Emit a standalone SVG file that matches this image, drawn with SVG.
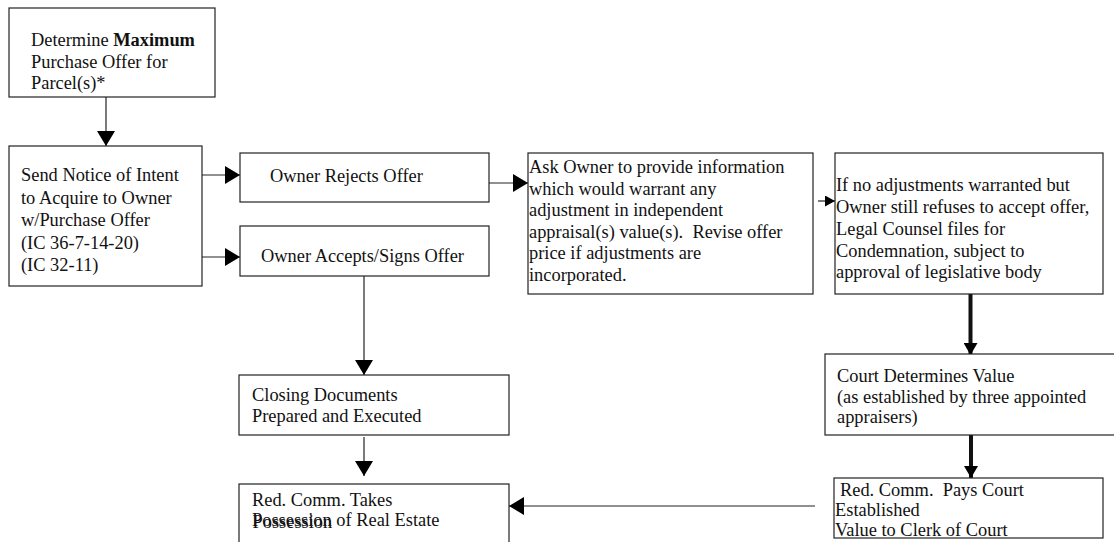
<svg xmlns="http://www.w3.org/2000/svg" width="1114" height="542" viewBox="0 0 1114 542">
<style>
  .box { fill: #fff; stroke: #222; stroke-width: 1.2; }
  .t { font-family: "Liberation Serif", "Times New Roman", serif; font-size: 18.4px; fill: #111; white-space: pre; }
  .ln { stroke: #222; stroke-width: 1.2; fill: none; }
  .thick { stroke: #111; stroke-width: 4; fill: none; }
</style>
<defs>
  <marker id="ah" markerUnits="userSpaceOnUse" markerWidth="15" markerHeight="18" viewBox="0 0 15 18" refX="15" refY="9" orient="auto">
    <path d="M0,0 L15,9 L0,18 z" fill="#000"/>
  </marker>
  <marker id="ahs" markerUnits="userSpaceOnUse" markerWidth="10" markerHeight="11" viewBox="0 0 10 11" refX="10" refY="5.5" orient="auto">
    <path d="M0,0 L10,5.5 L0,11 z" fill="#000"/>
  </marker>
  <marker id="aht" markerUnits="userSpaceOnUse" markerWidth="12" markerHeight="14" viewBox="0 0 12 14" refX="12" refY="7" orient="auto">
    <path d="M0,0 L12,7 L0,14 z" fill="#000"/>
  </marker>
</defs>
<rect width="1114" height="542" fill="#fff"/>

<g id="connectors">
  <line class="ln" x1="106" y1="97" x2="106" y2="146" marker-end="url(#ah)"/>
  <line class="ln" x1="202" y1="175" x2="240" y2="175" marker-end="url(#ah)"/>
  <line class="ln" x1="202" y1="257" x2="240" y2="257" marker-end="url(#ah)"/>
  <line class="ln" x1="489" y1="183" x2="528" y2="183" marker-end="url(#ah)"/>
  <line class="ln" x1="818" y1="201" x2="835" y2="201" marker-end="url(#ahs)"/>
  <line class="ln" x1="364" y1="276" x2="364" y2="375" marker-end="url(#ah)"/>
  <line class="ln" x1="364" y1="437" x2="364" y2="476" marker-end="url(#ah)"/>
  <line class="thick" x1="970.5" y1="294" x2="970.5" y2="355" marker-end="url(#aht)"/>
  <line class="thick" x1="971" y1="435" x2="971" y2="478" marker-end="url(#aht)"/>
  <line class="ln" x1="815" y1="506" x2="509" y2="506" marker-end="url(#ah)"/>
</g>

<g id="n1">
  <rect class="box" x="9" y="8" width="206" height="89"/>
  <text class="t" x="31" y="46">Determine <tspan font-weight="bold">Maximum</tspan></text>
  <text class="t" x="31" y="68">Purchase Offer for</text>
  <text class="t" x="31" y="89">Parcel(s)*</text>
</g>

<g id="n2">
  <rect class="box" x="9" y="146" width="193" height="140"/>
  <text class="t" x="21" y="181">Send Notice of Intent</text>
  <text class="t" x="21" y="203.5">to Acquire to Owner</text>
  <text class="t" x="21" y="226">w/Purchase Offer</text>
  <text class="t" x="21" y="248.5">(IC 36-7-14-20)</text>
  <text class="t" x="21" y="271">(IC 32-11)</text>
</g>

<g id="n3">
  <rect class="box" x="240" y="153" width="249" height="49"/>
  <text class="t" x="270" y="182">Owner Rejects Offer</text>
</g>

<g id="n4">
  <rect class="box" x="240" y="226" width="249" height="50"/>
  <text class="t" x="261" y="262">Owner Accepts/Signs Offer</text>
</g>

<g id="n5">
  <rect class="box" x="528" y="153" width="285" height="141"/>
  <text class="t" x="529" y="173">Ask Owner to provide information</text>
  <text class="t" x="529" y="194.5">which would warrant any</text>
  <text class="t" x="529" y="216">adjustment in independent</text>
  <text class="t" x="529" y="238" xml:space="preserve">appraisal(s) value(s).  Revise offer</text>
  <text class="t" x="529" y="259">price if adjustments are</text>
  <text class="t" x="529" y="281">incorporated.</text>
</g>

<g id="n6">
  <rect class="box" x="835" y="153" width="268" height="141"/>
  <text class="t" x="836" y="191">If no adjustments warranted but</text>
  <text class="t" x="836" y="213">Owner still refuses to accept offer,</text>
  <text class="t" x="836" y="235">Legal Counsel files for</text>
  <text class="t" x="836" y="257">Condemnation, subject to</text>
  <text class="t" x="836" y="278">approval of legislative body</text>
</g>

<g id="n7">
  <rect class="box" x="239" y="375" width="270" height="60"/>
  <text class="t" x="252" y="401">Closing Documents</text>
  <text class="t" x="252" y="422">Prepared and Executed</text>
</g>

<g id="n8">
  <rect class="box" x="825" y="354" width="295" height="81"/>
  <text class="t" x="837" y="382">Court Determines Value</text>
  <text class="t" x="837" y="403">(as established by three appointed</text>
  <text class="t" x="837" y="423">appraisers)</text>
</g>

<g id="n9">
  <rect class="box" x="834" y="478" width="269" height="60"/>
  <text class="t" x="840" y="496" xml:space="preserve">Red. Comm.  Pays Court</text>
  <text class="t" x="835" y="516">Established</text>
  <text class="t" x="835" y="536">Value to Clerk of Court</text>
</g>

<g id="n10">
  <rect class="box" x="239" y="484" width="270" height="80"/>
  <text class="t" x="252" y="506">Red. Comm. Takes</text>
  <text class="t" x="252" y="526">Possession of Real Estate</text>
  <text class="t" x="252.5" y="527.8">Possession</text>
</g>
</svg>
